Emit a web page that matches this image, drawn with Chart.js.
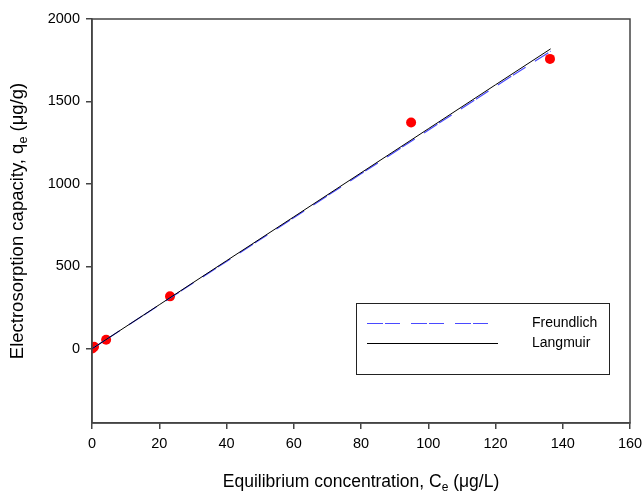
<!DOCTYPE html>
<html>
<head>
<meta charset="utf-8">
<script src="https://cdn.jsdelivr.net/npm/chart.js@4.4.1/dist/chart.umd.min.js"></script>
<style>
  html, body { margin: 0; padding: 0; background: #fff; }
  #wrap { width: 643px; height: 495px; }
</style>
</head>
<body>
<div id="wrap"><canvas id="chart" width="643" height="495"></canvas></div>
<script>
// measured points
const pointCe = [0.1, 0.6, 4.2, 23.2, 94.9, 136.2];
const pointQe = [2, 12, 55, 318, 1372, 1758];

// fitted isotherms
const lineCe = [0, 20, 40, 60, 80, 100, 120, 136.4];
const langmuirQe = [0, 267, 534, 800, 1067, 1334, 1601, 1819];
const freundlichQe = [0, 265, 530, 795, 1061, 1326, 1591, 1805];

const xTicks = [0, 20, 40, 60, 80, 100, 120, 140, 160];
const yTicks = [0, 500, 1000, 1500, 2000];

const FONT = "'Liberation Sans', Arial, sans-serif";

function toXY(xs, ys) {
    return xs.map((x, i) => ({ x: x, y: ys[i] }));
}

// draw a label with a subscript part, centred on (0,0) of the current transform
function drawRich(ctx, parts, size, subSize) {
    let total = 0;
    parts.forEach(p => {
        ctx.font = (p.sub ? subSize : size) + 'px ' + FONT;
        p.w = ctx.measureText(p.t).width;
        total += p.w;
    });
    let x = -total / 2;
    parts.forEach(p => {
        ctx.font = (p.sub ? subSize : size) + 'px ' + FONT;
        ctx.fillText(p.t, x, p.sub ? 4 : 0);
        x += p.w;
    });
}

const decorPlugin = {
    id: 'decor',
    afterDraw(chart) {
        const ctx = chart.ctx;
        const a = chart.chartArea;
        ctx.save();
        // frame
        ctx.strokeStyle = '#444';
        ctx.lineWidth = 1.5;
        ctx.strokeRect(a.left, a.top, a.right - a.left, a.bottom - a.top);

        // axis titles
        ctx.fillStyle = '#000';
        ctx.textBaseline = 'alphabetic';
        ctx.textAlign = 'left';
        ctx.save();
        ctx.translate((a.left + a.right) / 2, 487);
        drawRich(ctx, [
            { t: 'Equilibrium concentration, C' },
            { t: 'e', sub: true },
            { t: ' (\u03bcg/L)' }
        ], 17.5, 12);
        ctx.restore();

        ctx.save();
        ctx.translate(23, 221);
        ctx.rotate(-Math.PI / 2);
        drawRich(ctx, [
            { t: 'Electrosorption capacity, q' },
            { t: 'e', sub: true },
            { t: ' (\u03bcg/g)' }
        ], 18.5, 12.5);
        ctx.restore();

        // legend box
        const bx = 356, by = 303, bw = 253, bh = 71;
        ctx.strokeStyle = '#222';
        ctx.lineWidth = 1;
        ctx.strokeRect(bx + 0.5, by + 0.5, bw, bh);

        const items = chart.data.datasets.filter(d => d.type === 'line');
        items.forEach((d, i) => {
            const y = 323.5 + i * 20;
            ctx.beginPath();
            ctx.setLineDash(d.borderDash || []);
            ctx.strokeStyle = d.borderColor;
            ctx.lineWidth = 1;
            ctx.moveTo(367, y);
            ctx.lineTo(i === 0 ? 488 : 498, y);
            ctx.stroke();
            ctx.setLineDash([]);
            ctx.font = '14px ' + FONT;
            ctx.fillStyle = '#000';
            ctx.textBaseline = 'middle';
            ctx.fillText(d.label, 532, y);
        });
        ctx.restore();
    }
};

new Chart(document.getElementById('chart'), {
    data: {
        datasets: [
            {
                type: 'scatter',
                label: 'data',
                data: toXY(pointCe, pointQe),
                pointRadius: 5,
                pointBackgroundColor: '#ff0000',
                pointBorderWidth: 0,
                order: 3
            },
            {
                type: 'line',
                label: 'Freundlich',
                data: toXY(lineCe, freundlichQe),
                borderColor: '#4a4aff',
                borderWidth: 1.2,
                borderDash: [16, 2, 15, 11],
                pointRadius: 0,
                fill: false,
                order: 2
            },
            {
                type: 'line',
                label: 'Langmuir',
                data: toXY(lineCe, langmuirQe),
                borderColor: '#000000',
                borderWidth: 1,
                pointRadius: 0,
                fill: false,
                order: 1
            }
        ]
    },
    options: {
        responsive: false,
        animation: false,
        layout: { padding: { left: 0, right: 13, top: 19, bottom: 0 } },
        plugins: {
            legend: { display: false },
            tooltip: { enabled: false }
        },
        scales: {
            x: {
                type: 'linear',
                min: 0,
                max: 160,
                afterBuildTicks: s => { s.ticks = xTicks.map(v => ({ value: v })); },
                afterFit: s => { s.height = 72; s.paddingRight = 0; s.paddingLeft = 0; },
                grid: { drawOnChartArea: false, drawTicks: true, tickLength: 6, color: '#444', lineWidth: 1.5 },
                border: { display: true, color: '#444', width: 1.5 },
                ticks: { color: '#000', font: { size: 14.5, family: FONT }, padding: 6, maxRotation: 0,
                         callback: v => String(v) }
            },
            y: {
                type: 'linear',
                min: -450,
                max: 2000,
                afterBuildTicks: s => { s.ticks = yTicks.map(v => ({ value: v })); },
                afterFit: s => { s.width = 92; s.paddingTop = 0; s.paddingBottom = 0; },
                grid: { drawOnChartArea: false, drawTicks: true, tickLength: 6, color: '#444', lineWidth: 1.5 },
                border: { display: true, color: '#444', width: 1.5 },
                ticks: { color: '#000', font: { size: 14.5, family: FONT }, padding: 6,
                         callback: v => String(v) }
            }
        }
    },
    plugins: [decorPlugin]
});
</script>
</body>
</html>
